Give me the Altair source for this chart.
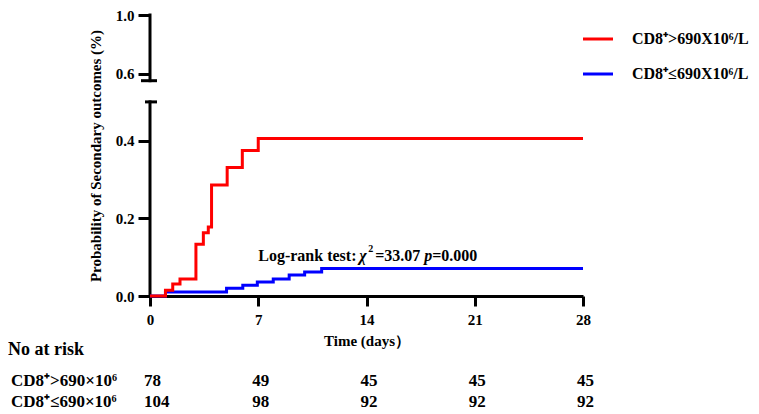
import altair as alt
import pandas as pd

# ---------------- data ----------------
red_days = [0, 1.0, 1.47, 1.94, 2.97, 3.45, 3.77, 3.98, 4.99, 5.97, 7.0, 28]
red_prob = [0, 0.015, 0.031, 0.044, 0.133, 0.163, 0.178, 0.286, 0.331, 0.375, 0.406, 0.406]
blue_days = [0, 1.0, 4.95, 6.0, 6.94, 7.97, 9.0, 10.0, 11.1, 28]
blue_prob = [0, 0.010, 0.020, 0.028, 0.036, 0.044, 0.054, 0.062, 0.071, 0.071]
x_ticks = [0, 7, 14, 21, 28]
y_ticks = [0.0, 0.2, 0.4, 0.6, 1.0]
risk_days = [0, 7, 14, 21, 28]
risk_high = [78, 49, 45, 45, 45]
risk_low = [104, 98, 92, 92, 92]
legend_labels = ["CD8⁺>690X10⁶/L", "CD8⁺≤690X10⁶/L"]
risk_title = "No at risk"
risk_labels = ["CD8⁺>690×10⁶", "CD8⁺≤690×10⁶"]
y_title = "Probability of Secondary outcomes (%)"
x_title = "Time (days）"
stat_parts = ["Log-rank test:", "χ", "2", "=33.07", "p", "=0.000"]
stat_day, stat_prob = 7, 0.104

# ---------------- layout / style ----------------
W, H = 433, 281
FONT = "Liberation Serif"
RED, BLUE = "#ff0000", "#0000ff"
LOW_TOP, HIGH_BOT = 0.5, 0.552          # broken y axis
k = H / 291.0
yscale = alt.Scale(domain=[0, LOW_TOP, HIGH_BOT, 1.0],
                   range=[H, round(90 * k, 1), round(68 * k, 1), 0],
                   nice=False, zero=False)
xscale = alt.Scale(domain=[0, 28], nice=False, zero=False)

x_axis = alt.Axis(values=x_ticks, title=x_title, grid=False,
                  domainColor="black", domainWidth=3,
                  tickColor="black", tickWidth=3, tickSize=10,
                  labelFont=FONT, labelFontSize=15, labelFontWeight="bold",
                  labelColor="black", labelPadding=6, labelAngle=0, labelFlush=False,
                  titleFont=FONT, titleFontSize=15, titleFontWeight="bold",
                  titleColor="black", titlePadding=6)
y_axis = alt.Axis(values=y_ticks, format=".1f", title=None, grid=False, domain=False,
                  tickColor="black", tickWidth=3, tickSize=12,
                  labelFont=FONT, labelFontSize=15, labelFontWeight="bold",
                  labelColor="black", labelPadding=4, labelFlush=False)

X = lambda f="t": alt.X(f"{f}:Q", scale=xscale, axis=x_axis)
Y = lambda f="p": alt.Y(f"{f}:Q", scale=yscale, axis=y_axis)

one = pd.DataFrame({"k": [0]})

# curves
blue = alt.Chart(pd.DataFrame({"t": blue_days, "p": blue_prob})).mark_line(
    interpolate="step-after", color=BLUE, strokeWidth=3).encode(x=X(), y=Y())
red = alt.Chart(pd.DataFrame({"t": red_days, "p": red_prob})).mark_line(
    interpolate="step-after", color=RED, strokeWidth=3).encode(x=X(), y=Y())

# broken y axis line
seg = pd.DataFrame({"p": [0, HIGH_BOT], "p2": [LOW_TOP, 1.0]})
yline = alt.Chart(seg).mark_rule(color="black", strokeWidth=3, strokeCap="square").encode(
    x=alt.value(0), y=Y(), y2=alt.Y2("p2:Q"))
brk_hi = alt.Chart(pd.DataFrame({"p": [HIGH_BOT]})).mark_rule(color="black", strokeWidth=3).encode(
    x=alt.value(-9), x2=alt.value(7), y=Y())
brk_lo = alt.Chart(pd.DataFrame({"p": [LOW_TOP]})).mark_rule(color="black", strokeWidth=3).encode(
    x=alt.value(-5), x2=alt.value(7), y=Y())

# log-rank annotation
stat_df = pd.DataFrame({"t": [stat_day], "p": [stat_prob]})
stat_specs = [  # (dx, dy, size, style)
    (0, 0, 16, "normal"), (101, 0, 16, "italic"), (110, -7, 10, "normal"),
    (117, 0, 16, "normal"), (166, 0, 16, "italic"), (174, 0, 16, "normal")]
stat_layers = []
for txt, (dx, dy, sz, st) in zip(stat_parts, stat_specs):
    stat_layers.append(alt.Chart(stat_df).mark_text(
        text=txt, align="left", baseline="middle", dx=dx, dy=dy, font=FONT,
        fontSize=sz, fontWeight="bold", fontStyle=st, color="black").encode(x=X(), y=Y()))

# legend
legend_layers = []
for lab, col, ly in zip(legend_labels, [RED, BLUE], [24, 59]):
    legend_layers.append(alt.Chart(one).mark_rule(color=col, strokeWidth=3).encode(
        x=alt.value(W), x2=alt.value(W + 30), y=alt.value(ly)))
    legend_layers.append(alt.Chart(one).mark_text(
        text=lab, align="left", baseline="middle", font=FONT, fontSize=16,
        fontWeight="bold", color="black").encode(x=alt.value(W + 49), y=alt.value(ly)))

# y title
ytitle = alt.Chart(one).mark_text(
    text=y_title, angle=270, align="center", baseline="middle", font=FONT,
    fontSize=15, fontWeight="bold", color="black").encode(x=alt.value(-54), y=alt.value(141))

# number at risk table
risk_layers = [alt.Chart(one).mark_text(
    text=risk_title, align="left", baseline="middle", font=FONT, fontSize=18,
    fontWeight="bold", color="black").encode(x=alt.value(-142), y=alt.value(H + 54))]
for lab, vals, ry in zip(risk_labels, [risk_high, risk_low], [H + 85, H + 106]):
    risk_layers.append(alt.Chart(one).mark_text(
        text=lab, align="left", baseline="middle", font=FONT, fontSize=17,
        fontWeight="bold", color="black").encode(x=alt.value(-139), y=alt.value(ry)))
    risk_layers.append(alt.Chart(pd.DataFrame({"t": risk_days, "n": vals})).mark_text(
        align="left", baseline="middle", dx=-6, font=FONT, fontSize=17,
        fontWeight="bold", color="black").encode(x=X(), y=alt.value(ry), text="n:Q"))

chart = alt.layer(
    yline, brk_hi, brk_lo, blue, red, *stat_layers, *legend_layers, ytitle, *risk_layers
).properties(
    width=W, height=H, padding={"left": 0, "top": 0, "right": 0, "bottom": 0},
    background="white"
).configure_view(stroke=None)

chart.save("out.html", embed_options={"renderer": "svg", "actions": False})
